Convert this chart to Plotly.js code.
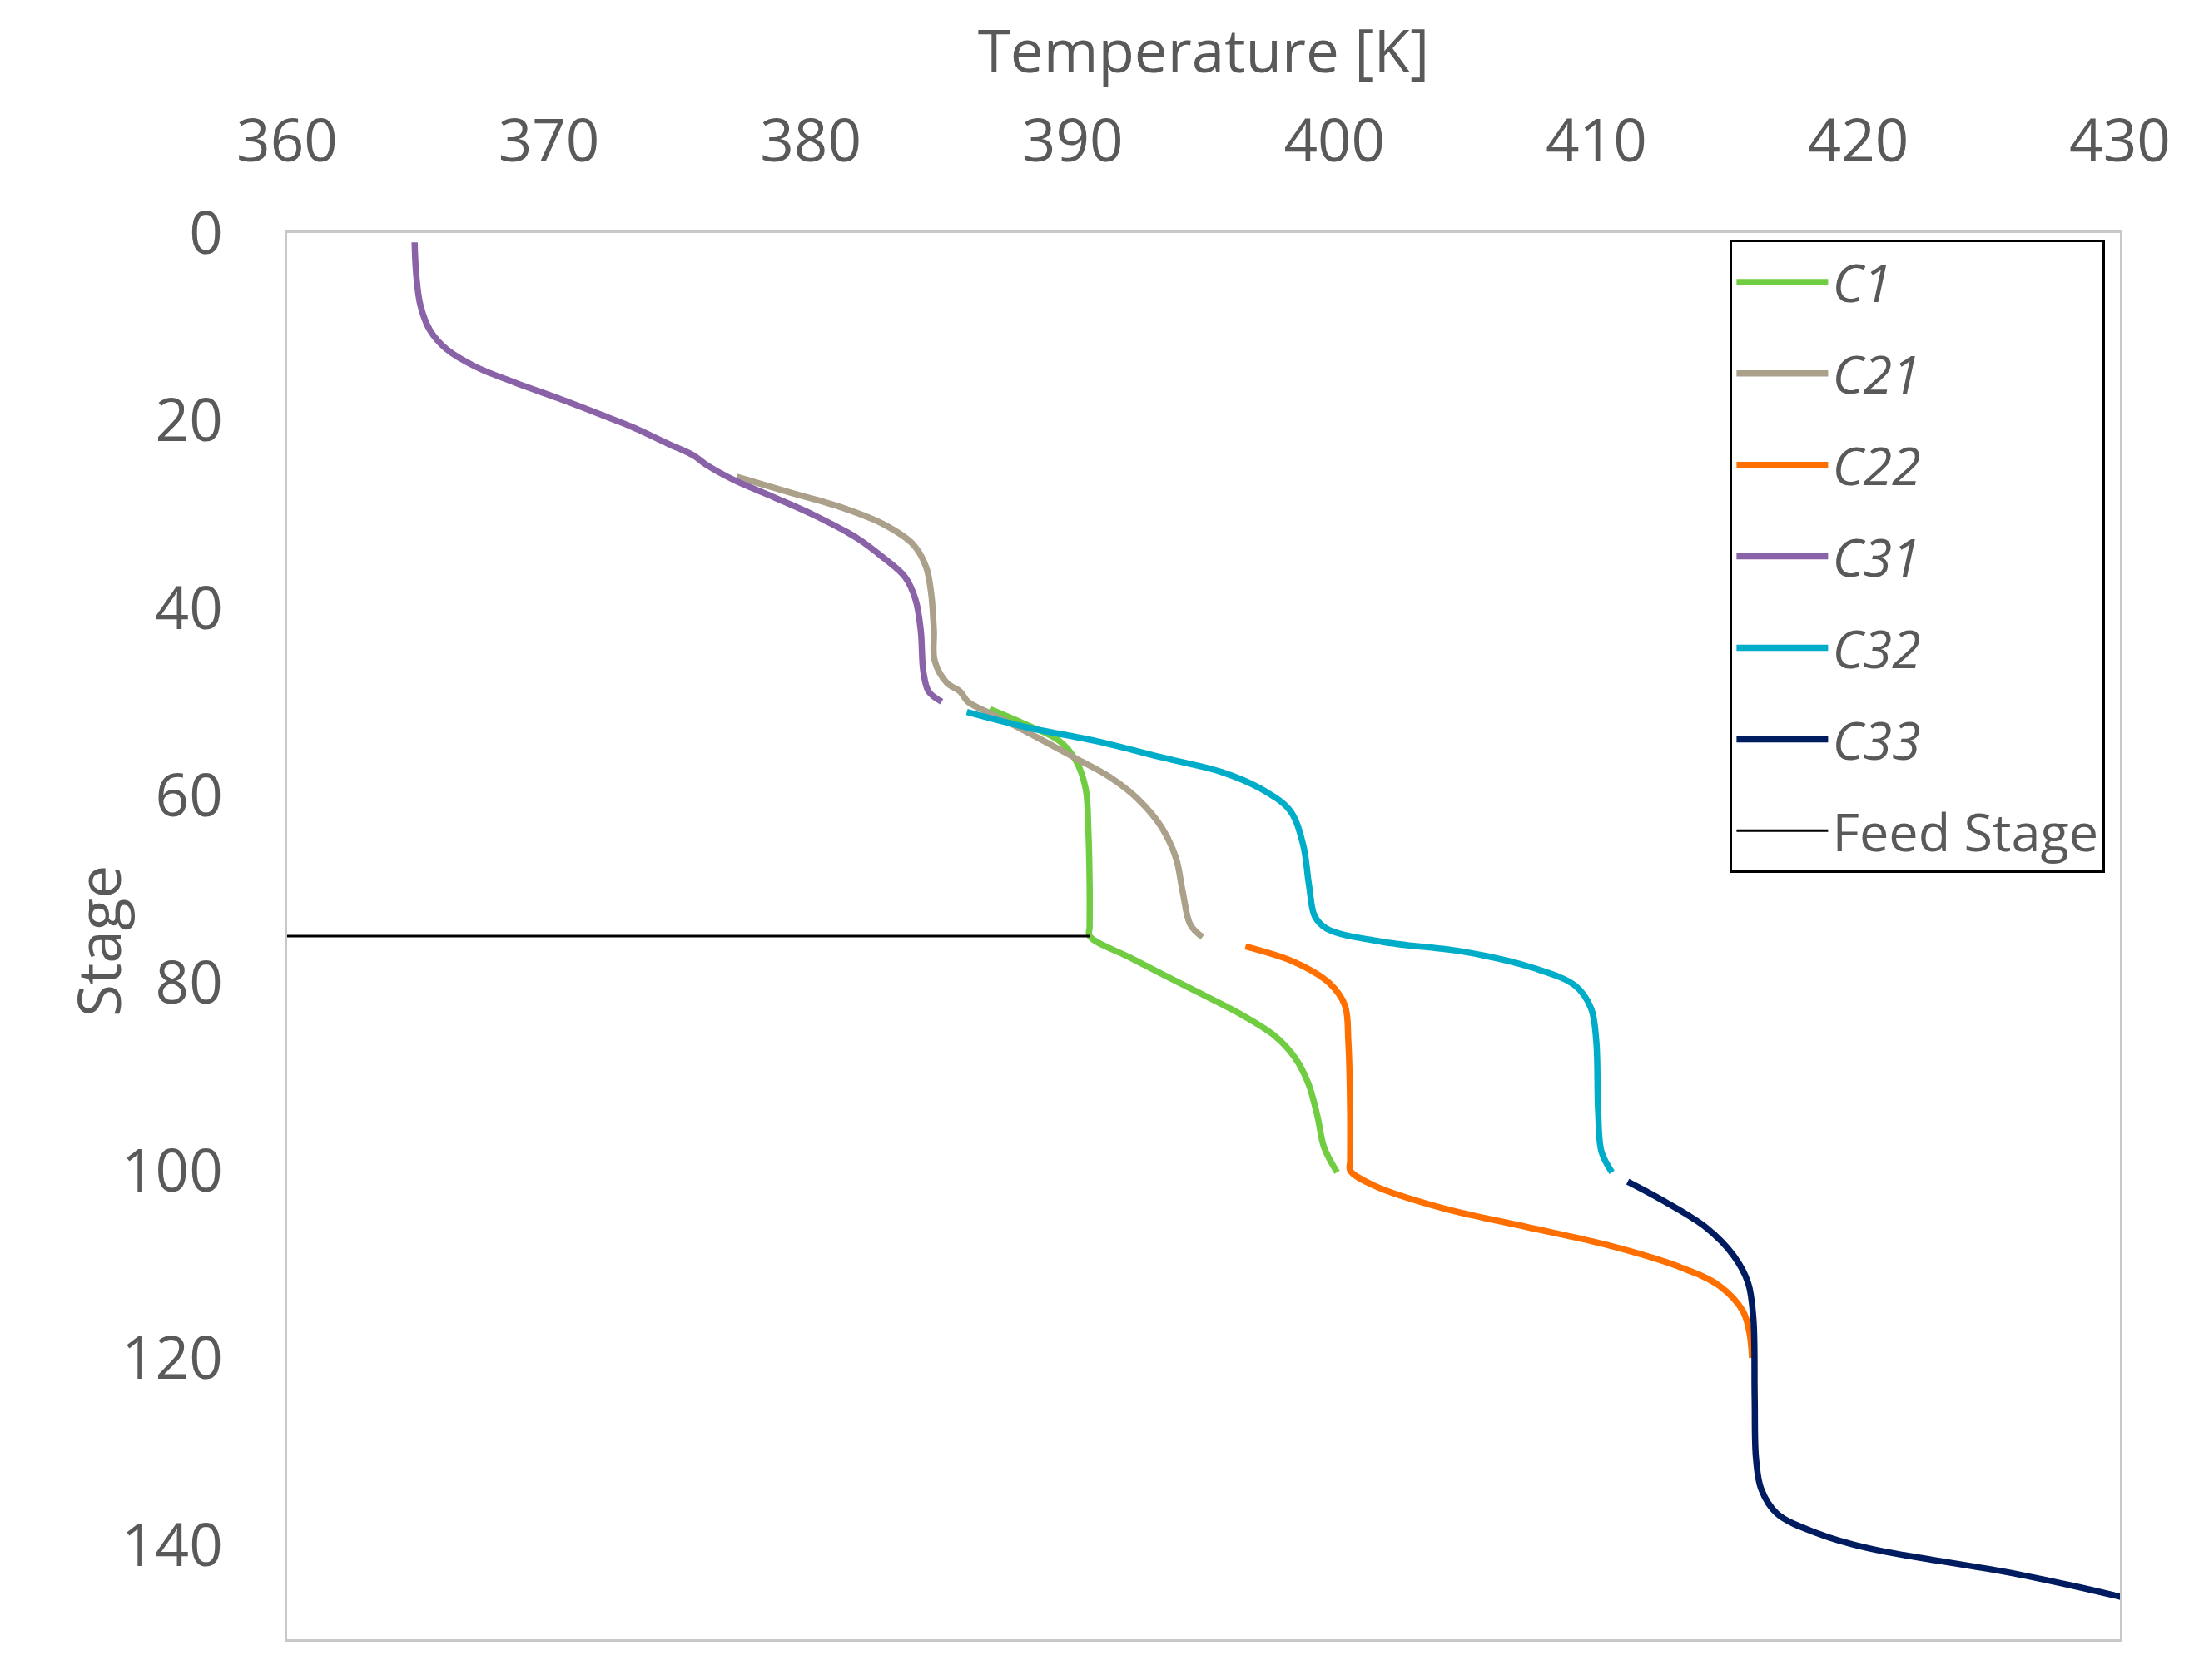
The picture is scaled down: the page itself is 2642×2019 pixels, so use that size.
<!DOCTYPE html>
<html>
<head>
<meta charset="utf-8">
<script src="https://cdn.plot.ly/plotly-3.0.1.min.js"></script>
<style>
  html, body { margin: 0; padding: 0; background: #ffffff; }
  #chart { width: 2642px; height: 2019px; }
</style>
</head>
<body>
<div id="chart"></div>
<script>
// temperature profiles: T in K, stage number
const c31T = [364.87, 364.93, 365.09, 365.46, 366.09, 367.15, 368.74, 370.33, 371.92, 373.19, 374.56, 375.5, 376.05, 377.1, 378.6, 380.2, 381.8, 382.8, 383.6, 384.0, 384.2, 384.3, 384.5, 385.0];
const c31Stage = [1, 4.4, 7.7, 10.4, 12.4, 14.2, 16, 17.6, 19.3, 20.7, 22.5, 23.7, 24.8, 26.4, 28.2, 30.2, 32.6, 34.7, 36.7, 39.1, 42.4, 46.8, 48.9, 50];

const c21T = [377.16, 379.1, 381.2, 382.8, 383.9, 384.4, 384.6, 384.7, 384.73, 385.2, 385.7, 386.0, 386.9, 388.1, 390.1, 391.4, 392.5, 393.4, 393.95, 394.2, 394.5, 394.96];
const c21Stage = [26, 27.6, 29.3, 31.1, 33.2, 35.6, 38.5, 42.4, 45.6, 48, 48.9, 50, 51.3, 53, 56, 58, 60.4, 63.4, 66.7, 70.2, 73.8, 75.1];

const c1T = [386.86, 388.2, 389.5, 390.13, 390.5, 390.6, 390.65, 390.65, 390.65, 392.2, 394.3, 396.4, 397.7, 398.5, 399.0, 399.35, 399.6, 400.1];
const c1Stage = [50.8, 52.4, 54.2, 56.3, 59.3, 63.7, 69.6, 74, 75, 77.3, 80.3, 83.3, 85.6, 88, 90.7, 94.2, 97.5, 100.2];

const c32T = [385.96, 388.2, 390.9, 393.5, 395.7, 397.2, 398.3, 398.8, 399.03, 399.25, 399.7, 401.8, 405.0, 407.6, 409.2, 409.8, 410.0, 410.07, 410.2, 410.6];
const c32Stage = [51.1, 52.7, 54.2, 56, 57.5, 59.3, 61.6, 65.2, 69.6, 72.9, 74.2, 75.6, 76.7, 78.4, 80.3, 82.7, 86.2, 93.6, 98, 100.2];

const c22T = [396.6, 398.5, 399.8, 400.4, 400.53, 400.6, 400.6, 400.6, 401.5, 404.1, 407.3, 410.5, 413.1, 414.7, 415.6, 415.85, 415.95];
const c22Stage = [76.1, 77.8, 80, 82.4, 86.2, 93.6, 99, 100, 101.6, 104, 106, 108, 110.2, 112.3, 115, 117.3, 120];

const c33T = [411.2, 412.6, 414.2, 415.25, 415.8, 416.0, 416.05, 416.1, 416.3, 416.9, 418.45, 420.4, 423.0, 425.6, 428.2, 430.05];
const c33Stage = [101.2, 103.3, 106.1, 109.1, 112, 115.8, 124.2, 130.7, 134, 136.6, 138.7, 140.3, 141.6, 142.8, 144.3, 145.5];

const feedT = [360, 390.65];
const feedStage = [75, 75];

const seriesNames = ['<i>C1</i>', '<i>C21</i>', '<i>C22</i>', '<i>C31</i>', '<i>C32</i>', '<i>C33</i>', 'Feed Stage'];
const seriesColors = ['#70cd42', '#aba089', '#ff6f00', '#8a62a8', '#00adc8', '#001c60', '#000000'];

const textColor = '#595959';
const fontFamily = '"Open Sans", "Liberation Sans", sans-serif';

function profile(i, x, y) {
    return {
        x: x,
        y: y,
        type: 'scatter',
        mode: 'lines',
        name: seriesNames[i],
        legendgroup: 'g' + i,
        line: {color: seriesColors[i], width: 7.5, shape: 'spline', smoothing: 1}
    };
}

const traces = [
    profile(0, c1T, c1Stage),
    profile(1, c21T, c21Stage),
    profile(2, c22T, c22Stage),
    profile(3, c31T, c31Stage),
    profile(4, c32T, c32Stage),
    profile(5, c33T, c33Stage),
    {
        x: feedT,
        y: feedStage,
        type: 'scatter',
        mode: 'lines',
        name: seriesNames[6],
        legendgroup: 'g6',
        line: {color: seriesColors[6], width: 3}
    }
];

const layout = {
    width: 2642,
    height: 2019,
    paper_bgcolor: '#ffffff',
    plot_bgcolor: '#ffffff',
    margin: {l: 345, r: 95, t: 280, b: 49},
    font: {family: fontFamily, color: textColor, size: 71},
    showlegend: true,
    xaxis: {
        side: 'top',
        range: [360, 430],
        dtick: 10,
        tick0: 360,
        showgrid: false,
        zeroline: false,
        showline: true,
        mirror: true,
        linecolor: '#c8c8c8',
        linewidth: 3,
        ticks: '',
        ticklabelstandoff: 55,
        tickfont: {size: 71, color: textColor},
        title: {text: 'Temperature [K]', font: {size: 71, color: textColor}, standoff: 7}
    },
    yaxis: {
        range: [150, 0],
        dtick: 20,
        tick0: 0,
        showgrid: false,
        zeroline: false,
        showline: true,
        mirror: true,
        linecolor: '#c8c8c8',
        linewidth: 3,
        ticks: '',
        ticklabelstandoff: 60,
        tickfont: {size: 71, color: textColor}
    },
    annotations: [{
        text: 'Stage',
        xref: 'paper',
        yref: 'paper',
        x: -0.1031,
        y: 0.4965,
        xanchor: 'center',
        yanchor: 'middle',
        textangle: -90,
        showarrow: false,
        font: {size: 71, color: textColor}
    }],
    legend: {
        x: 0.992,
        xanchor: 'right',
        y: 0.995,
        yanchor: 'top',
        bgcolor: '#ffffff',
        bordercolor: '#000000',
        borderwidth: 3,
        tracegroupgap: 25,
        itemwidth: 110,
        font: {size: 63, color: textColor}
    }
};

Plotly.newPlot('chart', traces, layout, {displayModeBar: false, staticPlot: true});
</script>
</body>
</html>
